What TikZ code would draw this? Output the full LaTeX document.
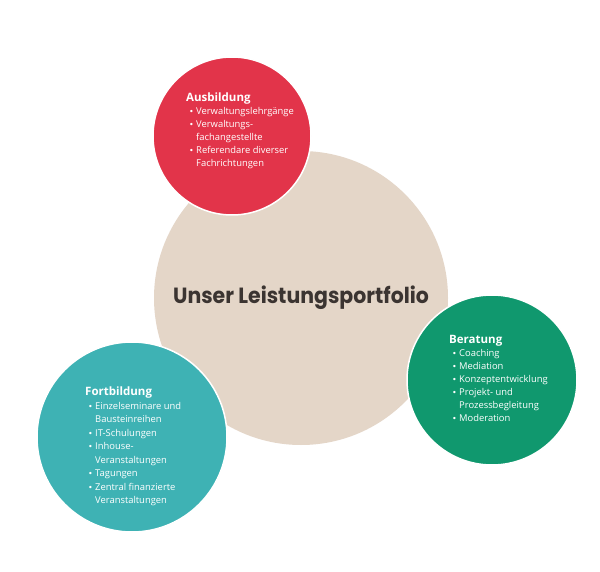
\documentclass[tikz,border=0pt]{standalone}
\usepackage{fontspec}
\setmainfont{Open Sans}
\newfontfamily\titlefont{Poppins}
\newfontfamily\bulfont{DejaVu Sans}
\usepackage{graphicx}
\definecolor{beige}{RGB}{228,214,200}
\definecolor{redc}{RGB}{226,52,74}
\definecolor{greenc}{RGB}{16,152,110}
\definecolor{tealc}{RGB}{62,178,180}
\definecolor{titlec}{RGB}{59,52,49}
\newcommand{\itm}[1]{\hspace*{3pt}\makebox[7pt][l]{\bulfont\fontsize{8}{8}\selectfont •}#1}
\newcommand{\cnt}[1]{\hspace*{10pt}#1}
\begin{document}
\begin{tikzpicture}[x=1pt,y=-1pt,
  bub/.style={circle,inner sep=0pt,draw=white,line width=1.5pt},
  blk/.style={anchor=north west,inner sep=0pt,align=left,text=white,
    font=\fontsize{9.4}{13}\selectfont}]
\useasboundingbox (0,0) rectangle (600,572);
\fill[white] (0,0) rectangle (600,572);
\node[circle,inner sep=0pt,fill=beige,minimum size=294pt] (core) at (301,298) {};
\node[bub,fill=redc,minimum size=158pt] (aus) at (232,136) {};
\node[bub,fill=greenc,minimum size=170pt] (ber) at (492,380) {};
\node[bub,fill=tealc,minimum size=190pt] (fort) at (132,437) {};
\node[text=titlec,inner sep=0pt] (title) at (301,298)
  {\scalebox{0.93}[1]{\titlefont\bfseries\fontsize{22}{22}\selectfont Unser Leistungsportfolio}};
\node[blk] (tA) at (186,93) {{\bfseries\fontsize{11.5}{14}\selectfont Ausbildung}\\
\itm{Verwaltungslehrgänge}\\
\itm{Verwaltungs-}\\
\cnt{fachangestellte}\\
\itm{Referendare diverser}\\
\cnt{Fachrichtungen}};
\node[blk] (tB) at (449,335) {{\bfseries\fontsize{11.5}{14}\selectfont Beratung}\\
\itm{Coaching}\\
\itm{Mediation}\\
\itm{Konzeptentwicklung}\\
\itm{Projekt- und}\\
\cnt{Prozessbegleitung}\\
\itm{Moderation}};
\node[blk,font=\fontsize{9.4}{13.5}\selectfont] (tF) at (85,387) {{\bfseries\fontsize{11.5}{14}\selectfont Fortbildung}\\
\itm{Einzelseminare und}\\
\cnt{Bausteinreihen}\\
\itm{IT-Schulungen}\\
\itm{Inhouse-}\\
\cnt{Veranstaltungen}\\
\itm{Tagungen}\\
\itm{Zentral finanzierte}\\
\cnt{Veranstaltungen}};
\end{tikzpicture}
\end{document}
